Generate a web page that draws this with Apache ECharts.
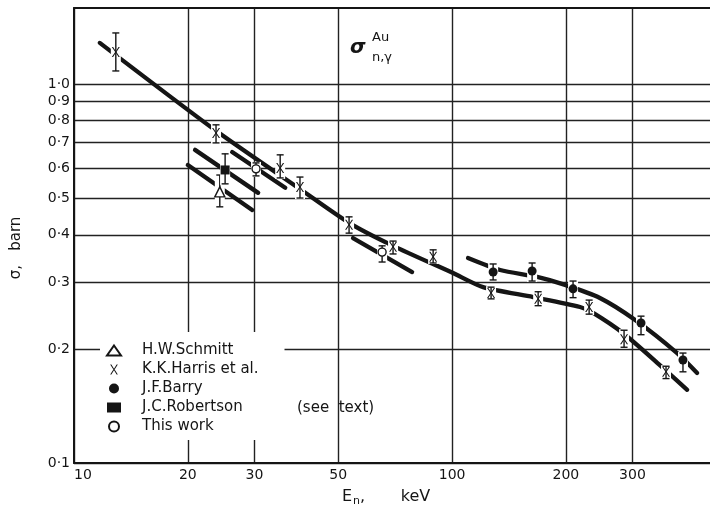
<!DOCTYPE html>
<html>
<head>
<meta charset="utf-8">
<script src="https://cdn.jsdelivr.net/npm/echarts@6/dist/echarts.min.js"></script>
<style>
html,body{margin:0;padding:0;background:#fff;}
#chart{width:710px;height:509px;}
</style>
</head>
<body>
<div id="chart"></div>
<script>
// tick positions
var xTicks = [10, 20, 30, 50, 100, 200, 300];
var yTicks = [0.1, 0.2, 0.3, 0.4, 0.5, 0.6, 0.7, 0.8, 0.9, 1.0];

// measured points: [E keV, sigma, low, high]
var schmitt = [[24.3, 0.519, 0.474, 0.575]];
var harris = [
  [12.9, 1.214, 1.082, 1.363],
  [23.75, 0.742, 0.699, 0.780],
  [35.1, 0.600, 0.565, 0.650],
  [39.6, 0.535, 0.500, 0.568],
  [53.4, 0.425, 0.404, 0.446],
  [69.8, 0.372, 0.356, 0.385],
  [89.1, 0.350, 0.337, 0.365],
  [126.8, 0.281, 0.271, 0.291],
  [168.9, 0.271, 0.260, 0.283],
  [230.4, 0.258, 0.247, 0.269],
  [285, 0.212, 0.202, 0.224],
  [368, 0.174, 0.167, 0.180]
];
var barry = [
  [128.4, 0.319, 0.304, 0.335],
  [162.8, 0.321, 0.302, 0.337],
  [208.9, 0.288, 0.273, 0.302],
  [316, 0.234, 0.218, 0.244],
  [408, 0.187, 0.174, 0.195]
];
var robertson = [[25.1, 0.593, 0.545, 0.654]];
var thisWork = [
  [30.3, 0.597, 0.572, 0.619],
  [65.3, 0.360, 0.339, 0.374]
];

// hand drawn curves
var fitHarris = [[11.7, 1.283], [23.75, 0.752], [39.6, 0.528], [53.4, 0.430], [69.8, 0.374],
  [100.6, 0.317], [120.8, 0.291], [163.8, 0.274], [218, 0.258], [236, 0.249],
  [283.5, 0.220], [355, 0.181], [418.5, 0.156]];
var fitBarry = [[110.2, 0.3475], [134, 0.323], [167.9, 0.3096], [199, 0.295], [246, 0.2725],
  [305, 0.2384], [393.7, 0.195], [444.7, 0.1728]];
var fitSchmitt = [[20.0, 0.611], [29.6, 0.465]];
var fitRobertson = [[20.9, 0.670], [30.7, 0.516]];
var fitThisWork1 = [[26.2, 0.661], [36.2, 0.532]];
var fitThisWork2 = [[54.7, 0.392], [78.4, 0.319]];

var FONT = 'DejaVu Sans';
var ink = '#151515';
var chart = echarts.init(document.getElementById('chart'));

function fitLine(d) {
  return {
    type: 'line', data: d, smooth: 0.25, symbol: 'none', silent: true, z: 2,
    lineStyle: {color: ink, width: 4.3, cap: 'round'}
  };
}
function points(name, d, symbol, size, fill) {
  return {
    name: name, type: 'scatter', data: d, symbol: symbol, symbolSize: size, z: 5,
    itemStyle: {color: fill, opacity: 1, borderColor: ink, borderWidth: fill === '#fff' ? 1.4 : 0}
  };
}
var crossPath = 'path://M0,0 L1.6,0 L5,5.6 L8.4,0 L10,0 L5.8,6.5 L10,13 L8.4,13 L5,7.4 L1.6,13 L0,13 L4.2,6.5 Z';

var errData = schmitt.concat(harris, barry, robertson, thisWork);

var option = {
  animation: false,
  backgroundColor: '#fff',
  grid: {left: 74, top: 8, right: 0, bottom: 46},
  xAxis: [{
    type: 'log', min: 10, max: 481,
    axisLine: {show: true, lineStyle: {color: ink, width: 2}},
    axisTick: {show: false, customValues: xTicks},
    axisLabel: {customValues: xTicks, color: ink, fontFamily: FONT, fontSize: 14, margin: 5,
      alignMinLabel: 'left', formatter: function (v) { return String(Math.round(v)); }},
    splitLine: {show: true, lineStyle: {color: '#222', width: 1.4}}
  }, {
    type: 'log', min: 10, max: 481, position: 'top',
    axisLine: {show: true, lineStyle: {color: ink, width: 2}},
    axisTick: {show: false}, axisLabel: {show: false}, splitLine: {show: false}
  }],
  yAxis: {
    type: 'log', min: 0.1, max: 1.586,
    axisLine: {show: true, lineStyle: {color: ink, width: 2}},
    axisTick: {show: false, customValues: yTicks},
    axisLabel: {customValues: yTicks, color: ink, fontFamily: FONT, fontSize: 14, margin: 4,
      formatter: function (v) { return v.toFixed(1).replace('.', '\u00b7'); }},
    splitLine: {show: true, lineStyle: {color: '#222', width: 1.4}}
  },
  legend: {
    orient: 'vertical', left: 100, top: 332, padding: [11, 26, 6, 6],
    backgroundColor: '#fff', itemWidth: 14, itemHeight: 10, itemGap: 4,
    data: ['H.W.Schmitt', 'K.K.Harris et al.', 'J.F.Barry', 'J.C.Robertson', 'This work'],
    textStyle: {color: ink, fontFamily: FONT, fontSize: 15, padding: [0, 0, 0, 16]}
  },
  graphic: [
    {type: 'text', x: 16, y: 248, rotation: Math.PI / 2,
      style: {text: '\u03c3,   barn', font: '15px ' + FONT, fill: ink, align: 'center', verticalAlign: 'middle'}},
    {type: 'text', x: 342, y: 497,
      style: {text: '{a|E}{b|n}{a|,       keV}', fill: ink, verticalAlign: 'middle',
        rich: {a: {font: '16px ' + FONT, fill: ink}, b: {font: '11px ' + FONT, fill: ink, padding: [8, 0, 0, 1]}}}},
    {type: 'text', x: 350, y: 48,
      style: {text: '\u03c3', font: 'italic bold 20px ' + FONT, fill: ink, verticalAlign: 'middle'}},
    {type: 'text', x: 372, y: 38,
      style: {text: 'Au', font: '13px ' + FONT, fill: ink, verticalAlign: 'middle'}},
    {type: 'text', x: 372, y: 58,
      style: {text: 'n,\u03b3', font: '13px ' + FONT, fill: ink, verticalAlign: 'middle'}},
    {type: 'text', x: 297, y: 408, z: 100,
      style: {text: '(see  text)', font: '15px ' + FONT, fill: ink, verticalAlign: 'middle'}}
  ],
  series: [
    fitLine(fitHarris), fitLine(fitBarry), fitLine(fitSchmitt),
    fitLine(fitRobertson), fitLine(fitThisWork1), fitLine(fitThisWork2),
    {
      type: 'custom', data: errData, silent: true, z: 3,
      encode: {x: 0, y: 1},
      renderItem: function (params, api) {
        var p = api.coord([api.value(0), api.value(1)]);
        var lo = api.coord([api.value(0), api.value(2)]);
        var hi = api.coord([api.value(0), api.value(3)]);
        var cap = 3.5;
        var ls = {stroke: ink, lineWidth: 1.4};
        return {type: 'group', children: [
          {type: 'rect', shape: {x: p[0] - 5, y: hi[1] - 1, width: 10, height: lo[1] - hi[1] + 2}, style: {fill: '#fff'}},
          {type: 'line', shape: {x1: p[0], y1: hi[1], x2: p[0], y2: lo[1]}, style: ls},
          {type: 'line', shape: {x1: p[0] - cap, y1: hi[1], x2: p[0] + cap, y2: hi[1]}, style: ls},
          {type: 'line', shape: {x1: p[0] - cap, y1: lo[1], x2: p[0] + cap, y2: lo[1]}, style: ls}
        ]};
      }
    },
    points('H.W.Schmitt', schmitt, 'triangle', 10, '#fff'),
    points('K.K.Harris et al.', harris, crossPath, [8, 10], ink),
    points('J.F.Barry', barry, 'circle', 9, ink),
    points('J.C.Robertson', robertson, 'rect', 9, ink),
    points('This work', thisWork, 'circle', 8, '#fff')
  ]
};
chart.setOption(option);
</script>
</body>
</html>
